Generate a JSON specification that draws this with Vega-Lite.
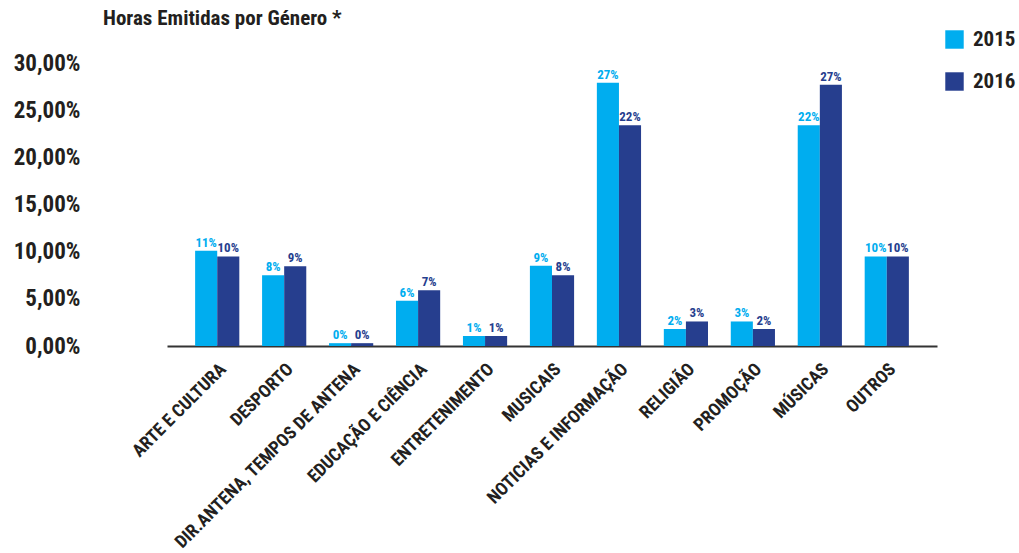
{
  "$schema": "https://vega.github.io/schema/vega-lite/v6.json",
  "width": 770,
  "height": 283,
  "autosize": {"type": "none"},
  "padding": {"left": 167, "top": 63, "right": 82, "bottom": 207},
  "background": "white",
  "title": {
    "text": "Horas Emitidas por Género *",
    "anchor": "start",
    "frame": "group",
    "dx": -64,
    "dy": 18,
    "offset": 18,
    "fontSize": 21,
    "fontWeight": "bold",
    "color": "#231f20"
  },
  "config": {
    "view": {"stroke": null},
    "font": "Roboto Condensed, Liberation Sans Narrow, DejaVu Sans Condensed, Roboto, sans-serif"
  },
  "data": {
    "values": [
      {"genero": "ARTE E CULTURA", "ano": "2015", "valor": 10.1, "rotulo": "11%"},
      {"genero": "ARTE E CULTURA", "ano": "2016", "valor": 9.5, "rotulo": "10%"},
      {"genero": "DESPORTO", "ano": "2015", "valor": 7.5, "rotulo": "8%"},
      {"genero": "DESPORTO", "ano": "2016", "valor": 8.45, "rotulo": "9%"},
      {"genero": "DIR.ANTENA, TEMPOS DE ANTENA", "ano": "2015", "valor": 0.3, "rotulo": "0%"},
      {"genero": "DIR.ANTENA, TEMPOS DE ANTENA", "ano": "2016", "valor": 0.3, "rotulo": "0%"},
      {"genero": "EDUCAÇÃO E CIÊNCIA", "ano": "2015", "valor": 4.8, "rotulo": "6%"},
      {"genero": "EDUCAÇÃO E CIÊNCIA", "ano": "2016", "valor": 5.9, "rotulo": "7%"},
      {"genero": "ENTRETENIMENTO", "ano": "2015", "valor": 1.06, "rotulo": "1%"},
      {"genero": "ENTRETENIMENTO", "ano": "2016", "valor": 1.06, "rotulo": "1%"},
      {"genero": "MUSICAIS", "ano": "2015", "valor": 8.5, "rotulo": "9%"},
      {"genero": "MUSICAIS", "ano": "2016", "valor": 7.5, "rotulo": "8%"},
      {"genero": "NOTICIAS E INFORMAÇÃO", "ano": "2015", "valor": 27.9, "rotulo": "27%"},
      {"genero": "NOTICIAS E INFORMAÇÃO", "ano": "2016", "valor": 23.4, "rotulo": "22%"},
      {"genero": "RELIGIÃO", "ano": "2015", "valor": 1.8, "rotulo": "2%"},
      {"genero": "RELIGIÃO", "ano": "2016", "valor": 2.6, "rotulo": "3%"},
      {"genero": "PROMOÇÃO", "ano": "2015", "valor": 2.6, "rotulo": "3%"},
      {"genero": "PROMOÇÃO", "ano": "2016", "valor": 1.8, "rotulo": "2%"},
      {"genero": "MÚSICAS", "ano": "2015", "valor": 23.4, "rotulo": "22%"},
      {"genero": "MÚSICAS", "ano": "2016", "valor": 27.7, "rotulo": "27%"},
      {"genero": "OUTROS", "ano": "2015", "valor": 9.5, "rotulo": "10%"},
      {"genero": "OUTROS", "ano": "2016", "valor": 9.5, "rotulo": "10%"}
    ]
  },
  "encoding": {
    "x": {
      "field": "genero",
      "type": "nominal",
      "sort": null,
      "scale": {"paddingInner": 0.34, "paddingOuter": 0.42},
      "axis": {
        "title": null,
        "labelAngle": -45,
        "labelAlign": "right",
        "labelBaseline": "top",
        "labelFontSize": 18,
        "labelFontWeight": "bold",
        "labelColor": "#231f20",
        "labelPadding": 14,
        "labelLimit": 400,
        "ticks": false,
        "domainColor": "#333333",
        "domainWidth": 2
      }
    },
    "xOffset": {"field": "ano", "type": "nominal", "scale": {"paddingInner": 0, "paddingOuter": 0}},
    "y": {
      "field": "valor",
      "type": "quantitative",
      "scale": {"domain": [0, 30], "nice": false},
      "axis": {
        "title": null,
        "values": [0, 5, 10, 15, 20, 25, 30],
        "labelExpr": "replace(format(datum.value, '.2f'), '.', ',') + '%'",
        "labelFontSize": 23,
        "labelFontWeight": "bold",
        "labelColor": "#231f20",
        "labelPadding": 87,
        "domain": false,
        "ticks": false,
        "grid": false
      }
    }
  },
  "layer": [
    {
      "mark": {"type": "bar"},
      "encoding": {
        "color": {
          "field": "ano",
          "type": "nominal",
          "scale": {"domain": ["2015", "2016"], "range": ["#00adef", "#263e8e"]},
          "legend": {
            "title": null,
            "orient": "none",
            "legendX": 777,
            "legendY": -34,
            "symbolType": "square",
            "symbolSize": 340,
            "symbolStrokeWidth": 0,
            "labelFontSize": 21,
            "labelFontWeight": "bold",
            "labelColor": "#231f20",
            "rowPadding": 20,
            "labelOffset": 8
          }
        }
      }
    },
    {
      "mark": {"type": "text", "dy": -8, "fontSize": 13, "fontWeight": "bold"},
      "encoding": {
        "text": {"field": "rotulo"},
        "color": {"field": "ano", "type": "nominal", "legend": null}
      }
    }
  ]
}
